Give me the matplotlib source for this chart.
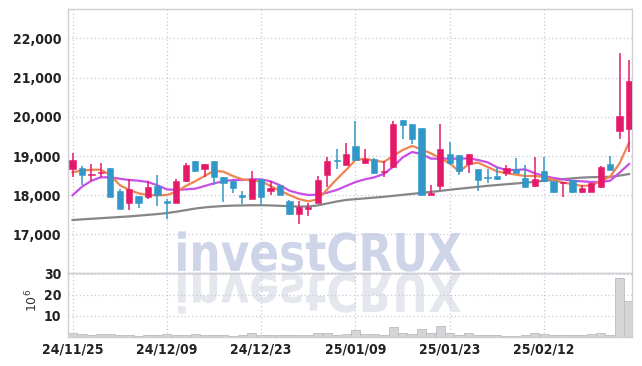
import matplotlib
matplotlib.use("Agg")
import matplotlib.pyplot as plt
import numpy as np
from matplotlib import font_manager
from matplotlib.font_manager import FontProperties
from matplotlib.patches import PathPatch
from matplotlib.textpath import TextPath
from matplotlib.transforms import Affine2D

# Daily prices (KRW), 24/11/25 .. 25/02/25
opens = [18660, 18690, 18510, 18560, 18690, 18115, 17795, 17980, 17950, 18235,
         17860, 17795, 18355, 18865, 18676, 18865, 18457, 18355, 18000, 17895,
         18405, 18100, 18253, 17845, 17521, 17656, 17794, 18508, 18898, 18763,
         19255, 18830, 18932, 18592, 18728, 19918, 19816, 19714, 18000, 18235,
         19051, 19018, 18796, 18661, 18472, 18490, 18575, 18661, 18439, 18235,
         18610, 18355, 18304, 18388, 18082, 18082, 18202, 18796, 19630, 19680]
highs = [19084, 18745, 18800, 18810, 18700, 18150, 18405, 17990, 18370, 18508,
         17895, 18405, 18814, 18880, 18800, 18870, 18460, 18388, 18115, 18625,
         18410, 18355, 18260, 17870, 17860, 17810, 18490, 18983, 19186, 19340,
         19885, 19170, 18940, 18865, 19885, 19930, 19820, 19714, 18253, 19816,
         19357, 19030, 19051, 18670, 18676, 18728, 18778, 18949, 18763, 18983,
         18983, 18360, 18345, 18400, 18253, 18320, 18740, 19000, 21634, 21448]
lows = [18472, 18250, 18370, 18460, 17945, 17640, 17623, 17665, 17895, 17725,
        17386, 17795, 18330, 18592, 18472, 18260, 17835, 18049, 17776, 17895,
        17758, 18005, 18014, 17488, 17266, 17470, 17794, 18202, 18661, 18763,
        18865, 18800, 18541, 18457, 18694, 19441, 19306, 18000, 18000, 18133,
        18763, 18508, 18575, 18115, 18304, 18400, 18490, 18575, 18184, 18220,
        18340, 18049, 17962, 18050, 18060, 18082, 18190, 18643, 19425, 19102]
closes = [18900, 18510, 18530, 18600, 17945, 17640, 18165, 17810, 18200, 17998,
          17795, 18355, 18778, 18625, 18796, 18472, 18304, 18184, 17965, 18405,
          17965, 18184, 18014, 17521, 17692, 17707, 18388, 18880, 18865, 19051,
          18898, 18932, 18575, 18625, 19816, 19798, 19425, 18000, 18049, 19170,
          18814, 18625, 19051, 18388, 18439, 18405, 18694, 18575, 18217, 18405,
          18355, 18082, 18337, 18082, 18184, 18304, 18728, 18643, 20020, 20905]

ma_short = [18584, 18630, 18650, 18650, 18515, 18260, 18133, 18049, 18005, 17998,
            18005, 18090, 18235, 18355, 18490, 18625, 18600, 18490, 18405, 18370,
            18355, 18235, 18115, 18005, 17903, 17845, 17896, 18150, 18405, 18643,
            18898, 18932, 18880, 18847, 19000, 19153, 19255, 19170, 19068, 18940,
            18814, 18600, 18796, 18830, 18720, 18610, 18560, 18525, 18490, 18490,
            18472, 18388, 18320, 18286, 18235, 18253, 18355, 18472, 18814, 19340]
ma_mid = [17998, 18217, 18370, 18457, 18457, 18422, 18388, 18370, 18337, 18253,
          18150, 18133, 18150, 18167, 18235, 18304, 18355, 18388, 18388, 18405,
          18405, 18355, 18253, 18115, 18049, 18005, 18014, 18065, 18133, 18235,
          18337, 18405, 18457, 18541, 18728, 18966, 19102, 19051, 18932, 18932,
          18932, 18932, 18940, 18898, 18840, 18712, 18643, 18643, 18661, 18560,
          18490, 18439, 18405, 18370, 18355, 18337, 18337, 18370, 18575, 18796]
ma_long = [17368, 17385, 17400, 17415, 17430, 17445, 17460, 17480, 17500, 17520,
           17545, 17580, 17620, 17660, 17690, 17710, 17725, 17735, 17740, 17745,
           17745, 17740, 17730, 17720, 17710, 17715, 17740, 17790, 17840, 17880,
           17900, 17920, 17940, 17960, 17985, 18010, 18035, 18060, 18085, 18110,
           18140, 18165, 18190, 18215, 18240, 18260, 18280, 18300, 18320, 18340,
           18370, 18390, 18410, 18430, 18450, 18460, 18465, 18470, 18500, 18540]

# volume in millions of shares
volumes = [1.8, 1.4, 0.8, 1.2, 1.2, 0.6, 0.9, 0.5, 0.8, 1.0,
           1.1, 1.0, 1.0, 1.4, 1.0, 1.0, 0.8, 0.5, 0.9, 1.8,
           0.8, 0.6, 0.6, 0.6, 0.6, 0.6, 1.6, 1.6, 1.0, 1.3,
           3.3, 1.2, 1.2, 0.9, 4.6, 2.0, 1.4, 3.7, 1.8, 5.2,
           1.8, 0.8, 1.8, 0.9, 0.7, 0.6, 0.4, 0.3, 0.6, 1.8,
           1.4, 1.0, 1.0, 0.8, 0.9, 1.2, 1.8, 1.0, 28.1, 17.0]

tick_pos = [0, 10, 20, 30, 40, 50]
tick_labels = ["24/11/25", "24/12/09", "24/12/23", "25/01/09", "25/01/23", "25/02/12"]
price_ticks = [17000, 18000, 19000, 20000, 21000, 22000]
vol_ticks = [10, 20, 30]

UP = "#e5196a"
DOWN = "#3197c9"
GRID = "#c6c9da"
FRAME = "#cfcfd4"

# the reference uses a narrow bold face; take the narrowest one installed
fonts = font_manager.fontManager.ttflist
names = {f.name for f in fonts}
if "Liberation Sans Narrow" in names:
    tick_font = dict(family=["Liberation Sans Narrow", "DejaVu Sans"], size=11)
elif any(f.name == "DejaVu Sans" and "ondensed" in str(f.stretch) for f in fonts):
    tick_font = dict(family=["DejaVu Sans"], stretch="condensed", size=10)
else:
    tick_font = dict(family=["Roboto", "DejaVu Sans"], size=9.5)

fig = plt.figure(figsize=(6.42, 3.66), dpi=100)
fig.patch.set_facecolor("white")
ax = fig.add_axes([0.1064, 0.2549, 0.8785, 0.7197])
axv = fig.add_axes([0.1064, 0.0801, 0.8785, 0.1748], sharex=ax)

x = np.arange(len(opens))
o = np.array(opens)
c = np.array(closes)
up = c >= o
colors = np.where(up, UP, DOWN)
bottoms = np.minimum(o, c)
heights = np.maximum(np.abs(c - o), 25)

for a in (ax, axv):
    a.set_facecolor("none")
    for s in a.spines.values():
        s.set_color(FRAME)
        s.set_linewidth(1.0)
    a.grid(True, color=GRID, linestyle=(0, (1, 2)), linewidth=0.9)
    a.set_axisbelow(True)
    a.tick_params(length=0, colors="#222222")

# moving averages under the candles
ax.plot(x, ma_long, color="#868686", lw=1.6, zorder=2)
ax.plot(x, ma_mid, color="#c94ee6", lw=1.6, zorder=2)
ax.plot(x, ma_short, color="#f0854f", lw=1.6, zorder=2)

ax.vlines(x, lows, highs, colors=colors, lw=1.1, zorder=3)
ax.bar(x, heights, bottom=bottoms, width=0.66, color=colors, edgecolor=colors,
       linewidth=0.4, zorder=4)

ax.set_xlim(-0.45, 59.35)
ax.set_ylim(16025, 22740)
ax.set_yticks(price_ticks)
ax.set_yticklabels([f"{t:,}" for t in price_ticks], fontweight="bold", **tick_font)
ax.tick_params(axis="y", pad=5)
ax.set_xticks(tick_pos)
ax.tick_params(axis="x", labelbottom=False)

axv.bar(x, volumes, width=0.96, color="#d5d5d8", edgecolor="#bcbcc1",
        linewidth=0.6, zorder=2)
axv.set_ylim(0, 30.6)
axv.set_yticks(vol_ticks)
axv.set_yticklabels([str(t) for t in vol_ticks], fontweight="bold", **tick_font)
axv.tick_params(axis="y", pad=5)
axv.set_xticks(tick_pos)
axv.set_xticklabels(tick_labels, fontweight="bold", **tick_font)
axv.tick_params(axis="x", pad=4)

fig.text(0.05, 0.18, "10$^6$", rotation=90, fontsize=9, color="#333333",
         ha="center", va="center")

# watermark with its reflection
fp = FontProperties(family="DejaVu Sans", weight="bold")
tp = TextPath((0, 0), "investCRUX", size=1, prop=fp)
ext = tp.get_extents()
sx = 283 / ext.width
sy = 38 / 0.729
H = 366
mark = Affine2D().translate(-ext.x0, 0).scale(sx, sy).translate(178, H - 271)
fig.add_artist(PathPatch(tp, transform=mark, facecolor="#cfd5e9",
                         edgecolor="none", zorder=-1))
refl = Affine2D().translate(-ext.x0, 0).scale(sx, -sy).translate(178, H - 274)
fig.add_artist(PathPatch(tp, transform=refl, facecolor="#e5e7ef",
                         edgecolor="none", zorder=-1))

fig.savefig("out.png", dpi=100, facecolor="white")
